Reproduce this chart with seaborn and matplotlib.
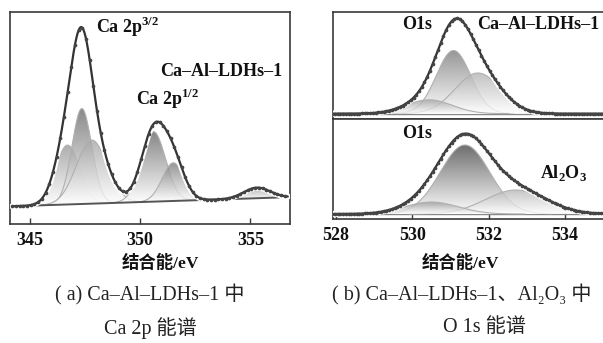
import numpy as np
import pandas as pd
import seaborn as sns
import matplotlib
matplotlib.use('Agg')
import matplotlib.pyplot as plt
import matplotlib.patheffects as pe
from matplotlib.patches import PathPatch
from matplotlib.colors import LinearSegmentedColormap

sns.set_theme(style='white')
plt.rcParams['font.family'] = ['Liberation Serif', 'Noto Sans CJK SC', 'DejaVu Serif']
plt.rcParams['mathtext.fontset'] = 'custom'
plt.rcParams['mathtext.rm'] = 'Liberation Serif'
plt.rcParams['mathtext.bf'] = 'Liberation Serif:bold'

# (a) Ca 2p fitted peaks: centre (eV), height, sigma (eV)
ca_center = [346.70, 347.35, 347.80, 350.60, 351.50, 355.30]
ca_height = [0.28, 0.45, 0.30, 0.33, 0.18, 0.05]
ca_sigma = [0.55, 0.45, 0.70, 0.55, 0.50, 0.60]
ca_base_x = [344.6, 356.3]
ca_base_y = [0.085, 0.125]
ca_ticks = [345, 350, 355]

# (b) O 1s, Ca-Al-LDHs-1 (top) and Al2O3 (bottom)
o_ldh_center = [531.08, 531.72, 530.44]
o_ldh_height = [0.59, 0.38, 0.13]
o_ldh_sigma = [0.45, 0.60, 0.60]
o_al_center = [531.38, 532.72, 530.50]
o_al_height = [0.69, 0.24, 0.12]
o_al_sigma = [0.65, 0.80, 0.70]
o_base = 0.05
o_ticks = [528, 530, 532, 534]

ca_shade = ['#9a9a9a', '#6c6c6c', '#a6a6a6', '#686868', '#7a7a7a', '#a0a0a0']
ldh_shade = ['#7c7c7c', '#b4b4b4', '#a4a4a4']
al_shade = ['#4a4a4a', '#b8b8b8', '#9a9a9a']


def peak(x, c, h, s):
    return h * np.exp(-(x - c) ** 2 / (2 * s * s))


def ca_baseline(x):
    k = (ca_base_y[1] - ca_base_y[0]) / (ca_base_x[1] - ca_base_x[0])
    return ca_base_y[0] + (x - ca_base_x[0]) * k


def grad_fill(ax, x, lo, hi, shade, z):
    poly = ax.fill_between(x, lo, hi, color='none', lw=0)
    patch = PathPatch(poly.get_paths()[0], transform=ax.transData,
                      facecolor='none', edgecolor='none')
    ax.add_patch(patch)
    cmap = LinearSegmentedColormap.from_list('g', ['#ffffff', shade])
    grad = np.linspace(0, 1, 256).reshape(-1, 1)
    im = ax.imshow(grad, extent=[x[0], x[-1], lo.min(), hi.max()], origin='lower',
                   cmap=cmap, aspect='auto', alpha=0.8, zorder=z, interpolation='bilinear')
    im.set_clip_path(patch)
    sns.lineplot(x=x, y=hi, ax=ax, color='#b0b0b0', lw=0.8, zorder=z + 0.5)


def draw_panel(ax, centers, heights, sigmas, shades, base_fn, xr, dots):
    for i, (c, h, s) in enumerate(zip(centers, heights, sigmas)):
        x = np.linspace(c - 3.5 * s, c + 3.5 * s, 200)
        lo = base_fn(x)
        grad_fill(ax, x, lo, lo + peak(x, c, h, s), shades[i], 2 + i)
    xe = np.linspace(xr[0], xr[1], 600)
    ye = base_fn(xe) + sum(peak(xe, c, h, s) for c, h, s in zip(centers, heights, sigmas))
    env = pd.DataFrame({'x': xe, 'y': ye})
    sns.lineplot(data=env, x='x', y='y', ax=ax, color='#333333', lw=1.6, zorder=20,
                 path_effects=[pe.withStroke(linewidth=4.5, foreground='white')])
    sns.scatterplot(data=env.iloc[::dots], x='x', y='y', ax=ax, color='#444444',
                    s=7, linewidth=0, zorder=21)


def style_axes(ax, xlim, ticks, right=True):
    ax.set_xlim(*xlim)
    ax.set_ylim(0, 1)
    ax.set_yticks([])
    ax.set_xticks(ticks)
    ax.set_xlabel('')
    ax.set_ylabel('')
    for sp in ax.spines.values():
        sp.set_color('#3a3a3a')
        sp.set_linewidth(1.2)
    ax.spines['right'].set_visible(right)
    ax.tick_params(axis='x', bottom=True, direction='in', length=4, width=1,
                   color='#3a3a3a', labelsize=13, pad=6, labelcolor='#111111')
    for lb in ax.get_xticklabels():
        lb.set_fontweight('bold')


fig = plt.figure(figsize=(6.03, 3.43), dpi=100)
W, H = 603, 343


def px_axes(x0, y0, x1, y1):
    return fig.add_axes([x0 / W, 1 - y1 / H, (x1 - x0) / W, (y1 - y0) / H])


# ---- (a) Ca 2p
ax1 = px_axes(10, 12, 290, 224)
draw_panel(ax1, ca_center, ca_height, ca_sigma, ca_shade, ca_baseline, (344.2, 356.7), 8)
bx = np.array(ca_base_x)
sns.lineplot(x=bx, y=ca_baseline(bx), ax=ax1, color='#555555', lw=1.4, zorder=15)
style_axes(ax1, (344.09, 356.8), ca_ticks)
kw = dict(fontsize=13, fontweight='bold', color='#111111', va='center', ha='left', zorder=30)
ax1.text(348.0, 0.93, r'Ca 2p$^{\mathbf{3/2}}$', **kw)
ax1.text(350.9, 0.72, 'Ca–Al–LDHs–1', **kw)
ax1.text(349.8, 0.59, r'Ca 2p$^{\mathbf{1/2}}$', **kw)

# ---- (b) O 1s
flat = lambda x: np.full_like(x, o_base)
ax2 = px_axes(333, 12, 603, 119)
draw_panel(ax2, o_ldh_center, o_ldh_height, o_ldh_sigma, ldh_shade, flat, (527.9, 535.0), 6)
ax2.axhline(o_base, color='#888888', lw=1, zorder=1)
style_axes(ax2, (527.92, 535.0), [], right=False)
ax2.text(529.72, 0.88, 'O1s', **kw)
ax2.text(531.7, 0.88, 'Ca–Al–LDHs–1', **kw)

ax3 = px_axes(333, 119, 603, 219)
draw_panel(ax3, o_al_center, o_al_height, o_al_sigma, al_shade, flat, (527.9, 535.0), 6)
ax3.axhline(o_base, color='#888888', lw=1, zorder=1)
style_axes(ax3, (527.92, 535.0), o_ticks, right=False)
ax3.text(529.72, 0.85, 'O1s', **kw)
ax3.text(533.36, 0.46, r'Al$_{\mathbf{2}}$O$_{\mathbf{3}}$', **kw)

# ---- labels and captions
lab = dict(fontsize=12.5, fontweight='bold', color='#111111', ha='center', va='center')
fig.text(160 / W, 1 - 263 / H, '结合能/eV', **lab)
fig.text(460 / W, 1 - 263 / H, '结合能/eV', **lab)
cap = dict(fontsize=14.5, color='#222222', ha='center', va='center')
fig.text(150 / W, 1 - 295 / H, '( a) Ca–Al–LDHs–1 中', **cap)
fig.text(150 / W, 1 - 328 / H, 'Ca 2p 能谱', **cap)
fig.text(462 / W, 1 - 295 / H, '( b) Ca–Al–LDHs–1、Al₂O₃ 中', **cap)
fig.text(484 / W, 1 - 328 / H, 'O 1s 能谱', **cap)

fig.savefig('out.png', dpi=100)
